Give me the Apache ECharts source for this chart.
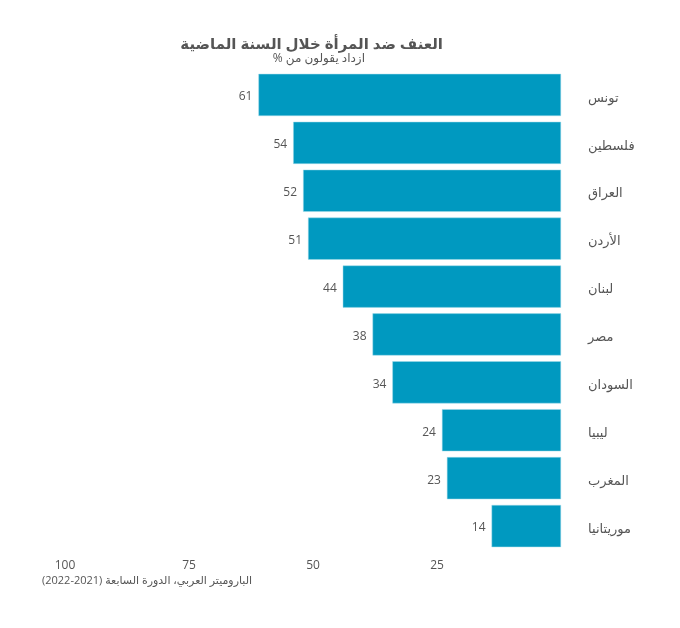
<!DOCTYPE html>
<html><head><meta charset="utf-8">
<script src="https://cdn.jsdelivr.net/npm/echarts@6/dist/echarts.min.js"></script>
<style>html,body{margin:0;padding:0;background:#fff}#c{width:680px;height:628px}</style>
</head><body><div id="c"></div>
<script>
const categories = ['تونس','فلسطين','العراق','الأردن','لبنان','مصر','السودان','ليبيا','المغرب','موريتانيا'];
const values = [61,54,52,51,44,38,34,24,23,14];
const tickLabels = {100:'100', 75:'75', 50:'50', 25:'25', 0:''};
const titleText = 'العنف ضد المرأة خلال السنة الماضية';
const subtitleText = 'ازداد يقولون من %\u200F';
const sourceText = 'الباروميتر العربي، الدورة السابعة (2021-2022)';
const FF = '"Open Sans","DejaVu Sans",sans-serif';
const chart = echarts.init(document.getElementById('c'));
chart.setOption({
  animation:false,
  graphic:[
    {type:'text', right:680-443, top:37, style:{text:titleText, font:'bold 15px '+FF, fill:'#555', textAlign:'right'}},
    {type:'text', right:680-365, top:53, style:{text:subtitleText, font:'12px '+FF, fill:'#555', textAlign:'right'}},
    {type:'text', left:42, top:575, style:{text:sourceText, font:'11px '+FF, fill:'#555'}}
  ],
  grid:{left:65, right:119, top:71, bottom:78},
  xAxis:{type:'value', min:0, max:100, interval:25, inverse:true,
    splitLine:{show:false}, axisLine:{show:false}, axisTick:{show:false},
    axisLabel:{color:'#555', fontSize:12, fontFamily:FF, margin:10, formatter:v=> tickLabels[v] ?? String(v)}},
  yAxis:{type:'category', data:categories, inverse:true, position:'right',
    axisLine:{show:false}, axisTick:{show:false},
    axisLabel:{color:'#555', fontSize:13, fontFamily:FF, margin:27, lineHeight:22, verticalAlign:'top', padding:[-8,0,0,0]}},
  series:[{type:'bar', data:values, barCategoryGap:'12%',
    itemStyle:{color:'#0099c0', borderColor:'#9fdbe9', borderWidth:0.5},
    label:{show:true, position:'left', color:'#555', fontSize:12, fontFamily:FF, distance:6, offset:[0,2]}}]
});
</script></body></html>
